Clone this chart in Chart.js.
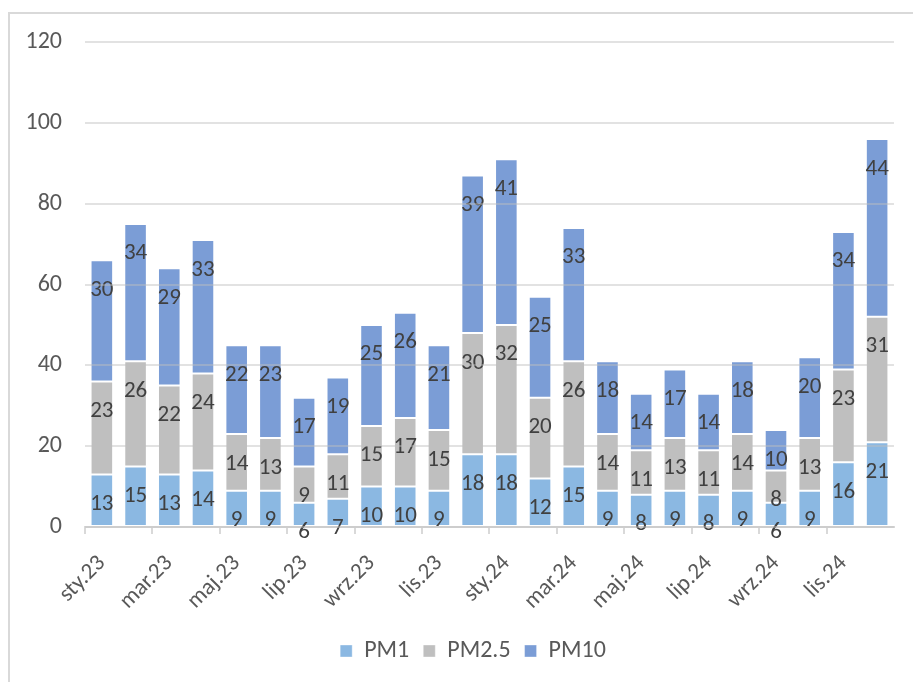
<!DOCTYPE html>
<html lang="pl">
<head>
<meta charset="utf-8">
<title>Stężenia pyłów PM1, PM2.5, PM10</title>
<script src="https://cdn.jsdelivr.net/npm/chart.js@4/dist/chart.umd.min.js"></script>
<style>
  html, body { margin: 0; padding: 0; background: #ffffff; }
  #wrap { position: relative; width: 913px; height: 682px; overflow: hidden; }
  #frame {
    position: absolute; left: 8px; top: 12px; width: 920px; height: 700px;
    border-left: 2px solid #d9d9d9; border-top: 2px solid #d9d9d9;
  }
  #chart { position: absolute; left: 0; top: 0; }
</style>
</head>
<body>
<div id="wrap">
  <div id="frame"></div>
  <canvas id="chart" width="913" height="682"></canvas>
</div>
<script>
// Months, Jan 2023 – Dec 2024
const months = [
  'sty.23', 'lut.23', 'mar.23', 'kwi.23', 'maj.23', 'cze.23',
  'lip.23', 'sie.23', 'wrz.23', 'paź.23', 'lis.23', 'gru.23',
  'sty.24', 'lut.24', 'mar.24', 'kwi.24', 'maj.24', 'cze.24',
  'lip.24', 'sie.24', 'wrz.24', 'paź.24', 'lis.24', 'gru.24'
];

// Monthly values per fraction
const pm1  = [13, 15, 13, 14, 9, 9, 6, 7, 10, 10, 9, 18, 18, 12, 15, 9, 8, 9, 8, 9, 6, 9, 16, 21];
const pm25 = [23, 26, 22, 24, 14, 13, 9, 11, 15, 17, 15, 30, 32, 20, 26, 14, 11, 13, 11, 14, 8, 13, 23, 31];
const pm10 = [30, 34, 29, 33, 22, 23, 17, 19, 25, 26, 21, 39, 41, 25, 33, 18, 14, 17, 14, 18, 10, 20, 34, 44];

const seriesNames = ['PM1', 'PM2.5', 'PM10'];

// Value axis
const yMin = 0, yMax = 120, yStep = 20;

const FONT = 'Carlito, Calibri, Lato, sans-serif';
const TEXT = '#595959';
const LABEL = '#404040';

// Value labels drawn just inside the top end of each stacked segment
const insideEndLabels = {
  id: 'insideEndLabels',
  afterDatasetsDraw(chart) {
    const ctx = chart.ctx;
    ctx.save();
    ctx.font = '23px ' + FONT;
    ctx.fillStyle = LABEL;
    ctx.textAlign = 'center';
    ctx.textBaseline = 'alphabetic';
    chart.data.datasets.forEach((ds, di) => {
      const meta = chart.getDatasetMeta(di);
      meta.data.forEach((bar, i) => {
        const v = ds.data[i];
        ctx.fillText(String(v), bar.x, bar.y + 35.5);
      });
    });
    ctx.restore();
  }
};

// The legend sits a little right of the canvas centre
const legendShift = {
  id: 'legendShift',
  afterLayout(chart) {
    if (chart.legend) {
      chart.legend.left += 25;
      chart.legend.right += 25;
    }
  }
};

new Chart(document.getElementById('chart'), {
  type: 'bar',
  data: {
    labels: months,
    datasets: [
      { label: seriesNames[0], data: pm1,  backgroundColor: '#8bb8e2' },
      { label: seriesNames[1], data: pm25, backgroundColor: '#bfbfbf' },
      { label: seriesNames[2], data: pm10, backgroundColor: '#7b9dd6' }
    ].map(d => Object.assign(d, {
      borderWidth: 1,
      borderColor: 'rgba(255,255,255,0.35)',
      borderSkipped: false,
      categoryPercentage: 1.0,
      barPercentage: 0.67
    }))
  },
  options: {
    responsive: false,
    animation: false,
    devicePixelRatio: 1,
    layout: { padding: { top: 42, right: 17, bottom: 9, left: 0 } },
    plugins: {
      legend: {
        position: 'bottom',
        labels: {
          boxWidth: 12,
          boxHeight: 12,
          padding: 14,
          color: TEXT,
          font: { family: FONT, size: 24 }
        }
      },
      tooltip: { enabled: false }
    },
    scales: {
      x: {
        stacked: true,
        grid: {
          display: true,
          offset: true,
          drawOnChartArea: false,
          drawTicks: true,
          tickLength: 7,
          lineWidth: 2,
          color: c => (c.index % 2 === 0 ? '#d9d9d9' : 'rgba(0,0,0,0)')
        },
        border: { display: true, color: '#d9d9d9', width: 2 },
        ticks: {
          autoSkip: false,
          minRotation: 45,
          maxRotation: 45,
          padding: 16,
          color: TEXT,
          font: { family: FONT, size: 23 },
          callback: (v, i) => (i % 2 === 0 ? months[i] : '')
        },
        afterFit: s => { s.height = 98; }
      },
      y: {
        stacked: true,
        min: yMin,
        max: yMax,
        grid: {
          z: 1,
          drawTicks: false,
          lineWidth: 2,
          color: 'rgba(190,190,190,0.45)'
        },
        border: { display: false },
        ticks: {
          stepSize: yStep,
          padding: 23,
          color: TEXT,
          font: { family: FONT, size: 24 }
        },
        afterFit: s => { s.width = 85; }
      }
    }
  },
  plugins: [insideEndLabels, legendShift]
});
</script>
</body>
</html>
